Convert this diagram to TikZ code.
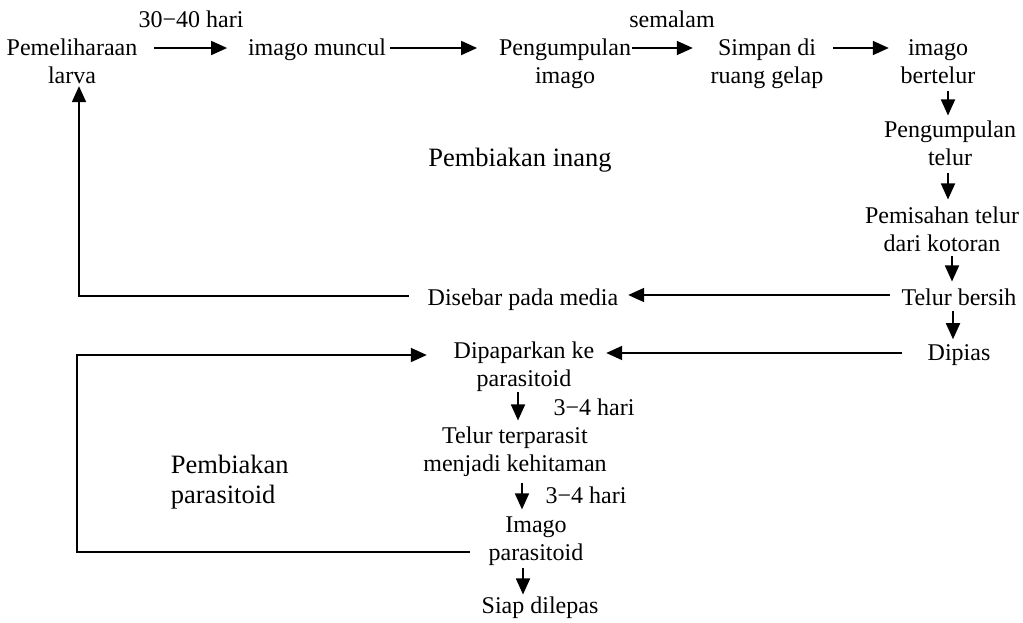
\documentclass[tikz,border=0pt]{standalone}
\usepackage{fontspec}
\setmainfont{Liberation Serif}
\usetikzlibrary{arrows.meta}

\begin{document}
\begin{tikzpicture}[x=1pt,y=-1pt,>={Triangle[length=16pt,width=14pt]},line width=1.8pt,
  txt/.style={align=center,inner sep=0pt,anchor=base,font=\fontsize{24pt}{28pt}\selectfont},
  big/.style={txt,font=\fontsize{26.5pt}{30pt}\selectfont}]
\useasboundingbox (0,0) rectangle (1023,622);
% pembiakan inang (base = last line)
\node[txt] (larva) at (72,83) {Pemeliharaan\\larva};
\node[txt] (muncul) at (317,55) {imago muncul};
\node[txt] (kumpul) at (565,83) {Pengumpulan\\imago};
\node[txt] (simpan) at (767,83) {Simpan di\\ruang gelap};
\node[txt] (bertelur) at (938,83) {imago\\bertelur};
\node[txt] (telur) at (950,165) {Pengumpulan\\telur};
\node[txt] (pisah) at (942,251) {Pemisahan telur\\dari kotoran};
\node[txt] (bersih) at (959,305) {Telur bersih};
\node[txt] (sebar) at (523,305) {Disebar pada media};
\node[txt] (hari) at (191,27) {30−40 hari};
\node[txt] (malam) at (672,27) {semalam};
\node[big] (inang) at (520,166) {Pembiakan inang};
% pembiakan parasitoid
\node[txt] (pias) at (959,360) {Dipias};
\node[txt] (papar) at (524,386) {Dipaparkan ke\\parasitoid};
\node[txt] (parasit) at (515,471) {Telur terparasit\\menjadi kehitaman};
\node[txt] (imago) at (536,560) {Imago\\parasitoid};
\node[txt] (lepas) at (540,613) {Siap dilepas};
\node[txt] (hariA) at (594,415) {3−4 hari};
\node[txt] (hariB) at (586,503) {3−4 hari};
\node[big,align=left,anchor=base west] (parasitoid) at (170,503) {Pembiakan\\parasitoid};
\coordinate (kiri) at (77,355);

% arrows
\draw[->] ([xshift=16pt,yshift=35pt]larva.base east) -- ([xshift=-20pt,yshift=7pt]muncul.base west);
\draw[->] ([xshift=3pt,yshift=7pt]muncul.base east) -- ([xshift=-21pt,yshift=35pt]kumpul.base west);
\draw[->] ([yshift=35pt]kumpul.base east) -- ([xshift=-17pt,yshift=35pt]simpan.base west);
\draw[->] ([xshift=9pt,yshift=35pt]simpan.base east) -- ([xshift=-11pt,yshift=35pt]bertelur.base west);
\draw[->,shorten <=7pt,shorten >=4pt] ([xshift=10pt]bertelur.south) -- ([xshift=10pt]bertelur.south |- telur.north);
\draw[->,shorten <=7pt,shorten >=6pt] ([xshift=-2pt]telur.south) -- ([xshift=-2pt]telur.south |- pisah.north);
\draw[->,shorten <=4pt,shorten >=6pt] ([xshift=10pt]pisah.south) -- ([xshift=10pt]pisah.south |- bersih.north);
\draw[->] ([xshift=-11pt,yshift=10pt]bersih.base west) -- ([xshift=9pt,yshift=10pt]bersih.base west -| sebar.east);
\draw[->,shorten >=2pt] ([xshift=-18pt,yshift=9pt]sebar.base west) -| ([xshift=7pt]larva.south);
\draw[->,shorten <=5pt,shorten >=4pt] ([xshift=-6pt]bersih.south) -- ([xshift=-6pt]bersih.south |- pias.north);
\draw[->] ([xshift=-25pt,yshift=7pt]pias.base west) -- ([xshift=11pt,yshift=7pt]pias.base west -| papar.east);
\draw[->,shorten >=5pt] ([xshift=-6pt]papar.south) -- ([xshift=-6pt]papar.south |- parasit.north);
\draw[->,shorten <=6pt,shorten >=6pt] ([xshift=7pt]parasit.south) -- ([xshift=7pt]parasit.south |- imago.north);
\draw[->,shorten <=2pt,shorten >=1pt] ([xshift=-13pt]imago.south) -- ([xshift=-13pt]imago.south |- lepas.north);
\draw[->] ([xshift=-18pt,yshift=8pt]imago.base west) -| (kiri) -- ([xshift=-26pt]kiri -| papar.west);
\end{tikzpicture}
\end{document}
